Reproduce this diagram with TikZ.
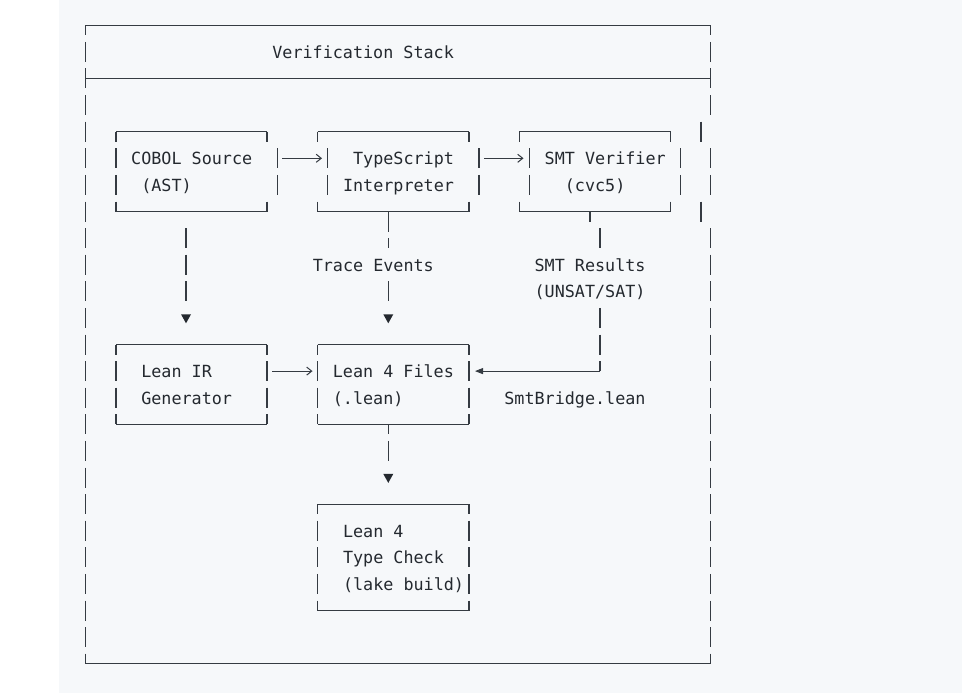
\documentclass[tikz,border=0pt]{standalone}
\usepackage{fontspec}
\newfontfamily\monofont{DejaVu Sans Mono}
\usetikzlibrary{arrows.meta}
\definecolor{bg}{HTML}{F6F8FA}
\definecolor{ink}{HTML}{24292F}
\definecolor{rulec}{HTML}{353B42}
\begin{document}
\begin{tikzpicture}[x=1pt,y=-1pt,
  hl/.style={draw=rulec, line width=1pt},
  vl/.style={draw=rulec, line width=1.4pt, dash pattern=on 20pt off 6.6pt},
  vlc/.style={vl, dash phase=10pt},
  txt/.style={anchor=base west, inner sep=0pt, text=ink, font=\monofont\fontsize{16.75}{20}\selectfont},
  oarrow/.style={draw=rulec, line width=1pt, -{Straight Barb[length=5pt,width=8pt]}},
  farrow/.style={draw=rulec, line width=1pt, -{Triangle[length=8pt,width=6pt]}},
  dtri/.pic={\fill[ink] (-5,-4.5) -- (5,-4.5) -- (0,4.5) -- cycle;}]
\fill[white] (0,0) rectangle (962,693);
\fill[bg] (59,0) rectangle (962,693);
\useasboundingbox (0,0) rectangle (962,693);

% outer frame
\draw[hl] (85.7,25.3) -- (710.7,25.3);
\draw[hl] (85.7,78.5) -- (710.7,78.5);
\draw[hl] (85.7,663.7) -- (710.7,663.7);
\draw[vlc] (85.7,25.3) -- (85.7,663.7);
\draw[vlc] (710.7,25.3) -- (710.7,115.1);
\draw[vl] (701,121.7) -- (701,141.7);
\draw[vl] (710.7,148.3) -- (710.7,194.9);
\draw[vl] (701,201.5) -- (701,221.5);
\draw[vl] (710.7,228.1) -- (710.7,663.7);
\node[txt] (title) at (272.2,58.3) {Verification Stack};

% COBOL box
\draw[hl] (116,131.7) -- (267,131.7);
\draw[hl] (116,211.5) -- (267,211.5);
\draw[vlc] (116,131.7) -- (116,211.5);
\draw[vl] (267,131.7) -- (267,141.7);
\draw[vl] (267,201.5) -- (267,211.5);
\draw[vl] (277.3,148.3) -- (277.3,194.9);
\node[txt] (cobol) at (131.0,164.7) {COBOL Source};
\node[txt] (cobolb) at (141.1,191.3) {(AST)};

% TypeScript box
\draw[hl] (317.7,131.7) -- (469,131.7);
\draw[hl] (317.7,211.5) -- (469,211.5);
\draw[vl] (317.7,131.7) -- (317.7,141.7);
\draw[vl] (317.7,201.5) -- (317.7,211.5);
\draw[vl] (469,131.7) -- (469,141.7);
\draw[vl] (469,201.5) -- (469,211.5);
\draw[vl] (327.7,148.3) -- (327.7,194.9);
\draw[vl] (479,148.3) -- (479,194.9);
\node[txt] (ts) at (352.9,164.7) {TypeScript};
\node[txt] (tsb) at (342.8,191.3) {Interpreter};

% SMT box
\draw[hl] (519.3,131.7) -- (670.7,131.7);
\draw[hl] (519.3,211.5) -- (670.7,211.5);
\draw[vl] (519.3,131.7) -- (519.3,141.7);
\draw[vl] (519.3,201.5) -- (519.3,211.5);
\draw[vl] (670.7,131.7) -- (670.7,141.7);
\draw[vl] (670.7,201.5) -- (670.7,211.5);
\draw[vl] (529.3,148.3) -- (529.3,194.9);
\draw[vl] (680.7,148.3) -- (680.7,194.9);
\node[txt] (smt) at (544.5,164.7) {SMT Verifier};
\node[txt] (smtb) at (564.7,191.3) {(cvc5)};

% arrows row 5
\coordinate (a1s) at (282.3,158.3); \coordinate (a1e) at (322,158.3);
\coordinate (a2s) at (484.3,158.3); \coordinate (a2e) at (523.5,158.3);
\draw[oarrow] (a1s) -- (a1e);
\draw[oarrow] (a2s) -- (a2e);

% COBOL -> Lean IR
\coordinate (c1s) at (186,228.1); \coordinate (c1e) at (186,301.3);
\draw[vl] (c1s) -- (c1e);
\pic at (186,318.8) {dtri};

% TypeScript -> Lean 4 Files
\coordinate (c2s) at (388.3,211.5); \coordinate (c2m) at (388.3,248.1);
\coordinate (c2n) at (388.3,281.3); \coordinate (c2e) at (388.3,301.3);
\draw[vl] (c2s) -- (c2m);
\draw[vl] (c2n) -- (c2e);
\node[txt] (trace) at (312.6,271.1) {Trace Events};
\pic at (388.3,318.8) {dtri};

% SMT -> Lean 4 Files
\coordinate (c3s) at (590,211.5); \coordinate (c3t) at (590,221.5);
\coordinate (c3u) at (600,228.1); \coordinate (c3v) at (600,248.1);
\coordinate (c3w) at (600,307.9); \coordinate (c3x) at (600,371.1);
\coordinate (c3e) at (475,371.1);
\draw[vl] (c3s) -- (c3t);
\draw[vl] (c3u) -- (c3v);
\draw[vl] (c3w) -- (c3x);
\draw[farrow] (c3x) -- (c3e);
\node[txt] (smtres) at (534.4,271.1) {SMT Results};
\node[txt] (smtresb) at (534.4,297.7) {(UNSAT/SAT)};
\node[txt] (bridge) at (504.2,404.1) {SmtBridge.lean};

% Lean IR box
\draw[hl] (116,344.5) -- (267,344.5);
\draw[hl] (116,424.3) -- (267,424.3);
\draw[vlc] (116,344.5) -- (116,424.3);
\draw[vlc] (267,344.5) -- (267,424.3);
\node[txt] (leanir) at (141.1,377.5) {Lean IR};
\node[txt] (leanirb) at (141.1,404.1) {Generator};

% Lean IR -> Lean 4 Files
\coordinate (a3s) at (272.3,371.1); \coordinate (a3e) at (312.5,371.1);
\draw[oarrow] (a3s) -- (a3e);

% Lean 4 Files box
\draw[hl] (317.7,344.5) -- (469,344.5);
\draw[hl] (317.7,424.3) -- (469,424.3);
\draw[vlc] (317.7,344.5) -- (317.7,424.3);
\draw[vlc] (469,344.5) -- (469,424.3);
\node[txt] (leanf) at (332.7,377.5) {Lean 4 Files};
\node[txt] (leanfb) at (332.7,404.1) {(.lean)};

% Lean 4 Files -> Type Check
\coordinate (c4s) at (388.3,424.3); \coordinate (c4e) at (388.3,460.9);
\draw[vlc] (c4s) -- (c4e);
\pic at (388.3,478.4) {dtri};

% Type Check box
\draw[hl] (317.5,504.1) -- (469,504.1);
\draw[hl] (317.5,610.5) -- (469,610.5);
\draw[vlc] (317.5,504.1) -- (317.5,610.5);
\draw[vlc] (469,504.1) -- (469,610.5);
\node[txt] (tc) at (342.8,537.1) {Lean 4};
\node[txt] (tcb) at (342.8,563.7) {Type Check};
\node[txt] (tcc) at (342.8,590.3) {(lake build)};
\end{tikzpicture}
\end{document}
